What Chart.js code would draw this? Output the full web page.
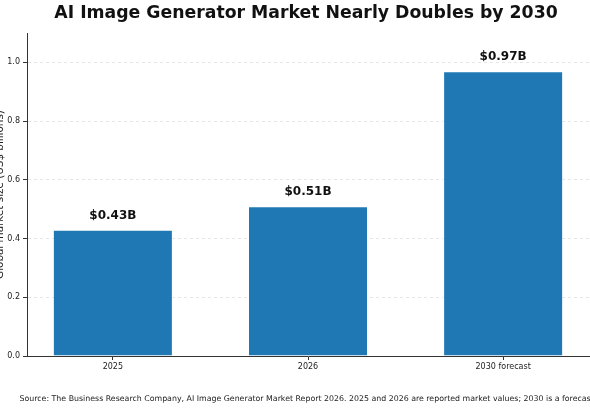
<!DOCTYPE html>
<html>
<head>
<meta charset="utf-8">
<script src="https://cdn.jsdelivr.net/npm/chart.js@4.4.1/dist/chart.umd.min.js"></script>
<style>
  html, body { margin: 0; padding: 0; background: #fff; overflow: hidden; }
  canvas { display: block; }
</style>
</head>
<body>
<canvas id="marketChart" width="590" height="410"></canvas>
<script>
const categories = ['2025', '2026', '2030 forecast'];
const marketSize = [0.43, 0.51, 0.97];
const barLabels = ['$0.43B', '$0.51B', '$0.97B'];
const yTicks = [0.0, 0.2, 0.4, 0.6, 0.8, 1.0];

const chartTitle = 'AI Image Generator Market Nearly Doubles by 2030';
const yTitle = 'Global market size (US$ billions)';
const sourceNote = 'Source: The Business Research Company, AI Image Generator Market Report 2026. 2025 and 2026 are reported market values; 2030 is a forecast.';

const FONT = '"DejaVu Sans", Verdana, sans-serif';

// labels over bars, title, y title and source line
const textPlugin = {
    id: 'textPlugin',
    afterDatasetsDraw(chart) {
        const ctx = chart.ctx;
        const bars = chart.getDatasetMeta(0).data;
        ctx.save();
        ctx.font = 'bold 12px ' + FONT;
        ctx.fillStyle = '#111';
        ctx.textAlign = 'center';
        ctx.textBaseline = 'alphabetic';
        bars.forEach((bar, i) => {
            ctx.fillText(barLabels[i], bar.x, bar.y - 11);
        });
        ctx.restore();
    },
    afterDraw(chart) {
        const ctx = chart.ctx;
        const area = chart.chartArea;
        ctx.save();
        ctx.fillStyle = '#111';
        ctx.font = 'bold 17.3px ' + FONT;
        ctx.textAlign = 'center';
        ctx.textBaseline = 'middle';
        ctx.fillText(chartTitle, 306, 14);

        ctx.font = '10.4px ' + FONT;
        ctx.fillStyle = '#222';
        ctx.translate(0, (area.top + area.bottom) / 2);
        ctx.rotate(-Math.PI / 2);
        ctx.fillText(yTitle, 0, 0);
        ctx.restore();

        ctx.save();
        ctx.font = '7.85px ' + FONT;
        ctx.fillStyle = '#222';
        ctx.textAlign = 'left';
        ctx.textBaseline = 'middle';
        ctx.fillText(sourceNote, 19.5, 399);
        ctx.restore();
    }
};

const ctx = document.getElementById('marketChart').getContext('2d');

new Chart(ctx, {
    type: 'bar',
    data: {
        datasets: [{
            data: marketSize.map((v, i) => ({ x: i, y: v })),
            backgroundColor: '#1f77b4',
            borderColor: 'rgba(255,255,255,0.6)',
            borderWidth: 1,
            categoryPercentage: 1,
            barPercentage: 0.615,
        }]
    },
    options: {
        responsive: false,
        animation: false,
        devicePixelRatio: 1,
        layout: { padding: { top: 33, right: 1, bottom: 34, left: 0 } },
        plugins: {
            legend: { display: false },
            tooltip: { enabled: false },
        },
        scales: {
            x: {
                type: 'linear',
                offset: false,
                min: -0.44,
                max: 2.44,
                afterBuildTicks: (scale) => { scale.ticks = categories.map((c, i) => ({ value: i })); },
                afterFit: (scale) => { scale.height = 20; },
                ticks: {
                    font: { family: FONT, size: 8 },
                    color: '#222',
                    padding: 2,
                    maxRotation: 0,
                    callback: (v) => categories[Math.round(v)],
                },
                grid: { offset: false, drawOnChartArea: false, tickLength: 4, tickColor: '#333' },
                border: { color: '#333', width: 1 },
            },
            y: {
                min: 0,
                max: 1.1,
                afterBuildTicks: (scale) => { scale.ticks = yTicks.map(v => ({ value: v })); },
                afterFit: (scale) => { scale.width = 27; },
                ticks: {
                    font: { family: FONT, size: 8 },
                    color: '#222',
                    padding: 3,
                    callback: (v) => v.toFixed(1),
                },
                grid: { color: 'rgba(0,0,0,0.1)', tickLength: 4, tickColor: '#333' },
                border: { color: '#333', width: 1, dash: [3, 3] },
            }
        }
    },
    plugins: [textPlugin]
});
</script>
</body>
</html>
